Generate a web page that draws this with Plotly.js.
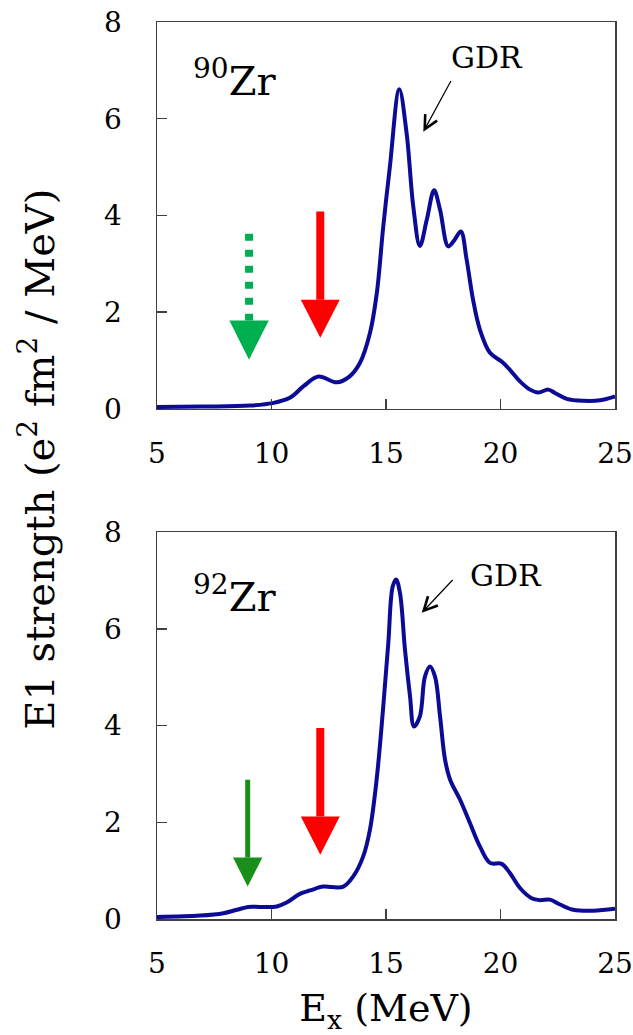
<!DOCTYPE html>
<html>
<head>
<meta charset="utf-8">
<script src="https://cdn.plot.ly/plotly-3.0.1.min.js"></script>
<style>html,body{margin:0;padding:0;background:#fff;}#chart{width:633px;height:1035px;}</style>
</head>
<body>
<div id="chart"></div>
<script>
// ---- data ----
const xTicks = [5, 10, 15, 20, 25];
const yTicks = [0, 2, 4, 6, 8];

// 90Zr E1 strength (e^2 fm^2 / MeV) vs Ex (MeV)
const ex90 = [5, 7.0, 9.06, 10.04, 10.8, 11.4, 12.05, 12.85, 13.4, 13.86, 14.3, 14.6, 14.88, 15.17, 15.58, 15.9, 16.19, 16.48, 16.78, 17.1, 17.36, 17.72, 18.0, 18.27, 18.52, 18.8, 19.1, 19.54, 20.05, 20.41, 20.85, 21.29, 21.65, 22.09, 22.38, 22.89, 23.62, 24.35, 25];
const s90  = [0.04, 0.05, 0.07, 0.12, 0.23, 0.47, 0.67, 0.55, 0.67, 0.95, 1.57, 2.4, 3.77, 5.01, 6.61, 5.70, 4.19, 3.37, 3.91, 4.52, 4.12, 3.36, 3.5, 3.67, 3.09, 2.26, 1.64, 1.16, 0.98, 0.81, 0.57, 0.40, 0.34, 0.40, 0.33, 0.21, 0.17, 0.18, 0.26];

// 92Zr E1 strength
const ex92 = [5, 6.88, 7.9, 8.48, 8.99, 9.5, 10.23, 10.66, 11.24, 11.68, 12.26, 12.63, 13.14, 13.57, 14.0, 14.3, 14.59, 14.88, 15.1, 15.29, 15.44, 15.61, 15.83, 16.05, 16.22, 16.48, 16.7, 16.92, 17.14, 17.36, 17.58, 17.8, 18.23, 18.67, 19.1, 19.54, 20.05, 20.41, 20.85, 21.36, 21.72, 22.16, 22.6, 23.18, 24.05, 25];
const s92  = [0.04, 0.07, 0.12, 0.19, 0.25, 0.25, 0.26, 0.34, 0.52, 0.59, 0.67, 0.66, 0.67, 0.88, 1.29, 1.85, 2.88, 4.39, 5.70, 6.87, 7.02, 6.74, 5.56, 4.6, 3.98, 4.19, 5.01, 5.22, 5.01, 4.19, 3.29, 2.88, 2.47, 1.98, 1.50, 1.16, 1.14, 0.95, 0.64, 0.43, 0.39, 0.40, 0.30, 0.19, 0.17, 0.21];

const panelLabels = ['<sup>90</sup>Zr', '<sup>92</sup>Zr'];
const gdrLabel = 'GDR';
const yTitle = 'E1 strength (e<sup>2</sup> fm<sup>2</sup> / MeV)';
const xTitle = 'E<sub>x</sub> (MeV)';

// ---- styling ----
const SERIF = 'DejaVu Serif';
const CURVE = '#0b0b96';
const AXC = '#404040';

function xAxis(anchor, withTitle) {
  const a = {
    anchor: anchor, domain: [0, 1], range: [5, 25],
    tickmode: 'array', tickvals: xTicks, ticktext: xTicks.map(String),
    ticks: 'inside', ticklen: 10, tickwidth: 1.5, tickcolor: AXC,
    showline: true, linecolor: AXC, linewidth: 1.5, mirror: true,
    showgrid: false, zeroline: false,
    tickfont: {family: SERIF, size: 28, color: '#000'},
    ticklabelstandoff: 19, fixedrange: true
  };
  if (withTitle) a.title = {text: xTitle, font: {family: SERIF, size: 38, color: '#000'}, standoff: 22};
  return a;
}
function yAxis(anchor, domain) {
  return {
    anchor: anchor, domain: domain, range: [0, 8],
    tickmode: 'array', tickvals: yTicks, ticktext: yTicks.map(String),
    ticks: 'inside', ticklen: 10, tickwidth: 1.5, tickcolor: AXC,
    showline: true, linecolor: AXC, linewidth: 1.5, mirror: true,
    showgrid: false, zeroline: false,
    tickfont: {family: SERIF, size: 28, color: '#000'},
    ticklabelstandoff: 28, fixedrange: true
  };
}

const traces = [
  {x: ex90, y: s90, xaxis: 'x', yaxis: 'y', type: 'scatter', mode: 'lines',
   line: {color: CURVE, width: 4, shape: 'spline', smoothing: 1}, hoverinfo: 'skip'},
  {x: ex92, y: s92, xaxis: 'x2', yaxis: 'y2', type: 'scatter', mode: 'lines',
   line: {color: CURVE, width: 4, shape: 'spline', smoothing: 1}, hoverinfo: 'skip'}
];

// arrow decorations (data coordinates of each panel)
function downArrow(xr, yr, x, yTop, yBase, yTip, halfW, color, shaftW, dash) {
  return [
    {type: 'line', xref: xr, yref: yr, x0: x, x1: x, y0: yTop, y1: yBase,
     line: {color: color, width: shaftW, dash: dash || 'solid'}},
    {type: 'path', xref: xr, yref: yr,
     path: `M ${x - halfW},${yBase} L ${x + halfW},${yBase} L ${x},${yTip} Z`,
     fillcolor: color, line: {color: color, width: 0}}
  ];
}
const shapes = [].concat(
  downArrow('x', 'y', 9.02, 3.62, 1.83, 1.02, 0.86, '#00b050', 8, '7px,9px'),
  downArrow('x', 'y', 12.13, 4.08, 2.26, 1.47, 0.85, '#ff0000', 8),
  downArrow('x2', 'y2', 8.96, 2.88, 1.27, 0.67, 0.64, '#188f18', 5),
  downArrow('x2', 'y2', 12.13, 3.95, 2.12, 1.33, 0.85, '#ff0000', 8)
);

const annotations = [
  {xref: 'x', yref: 'y', x: 8.4, y: 6.84, text: panelLabels[0], showarrow: false,
   xanchor: 'center', yanchor: 'middle', font: {family: SERIF, size: 40, color: '#000'}},
  {xref: 'x2', yref: 'y2', x: 8.4, y: 6.71, text: panelLabels[1], showarrow: false,
   xanchor: 'center', yanchor: 'middle', font: {family: SERIF, size: 40, color: '#000'}},
  {xref: 'x', yref: 'y', x: 19.41, y: 7.27, text: gdrLabel, showarrow: false,
   xanchor: 'center', yanchor: 'middle', font: {family: SERIF, size: 30, color: '#000'}},
  {xref: 'x2', yref: 'y2', x: 20.24, y: 7.11, text: gdrLabel, showarrow: false,
   xanchor: 'center', yanchor: 'middle', font: {family: SERIF, size: 30, color: '#000'}},
  {xref: 'x', yref: 'y', x: 16.63, y: 5.73, axref: 'x', ayref: 'y', ax: 17.87, ay: 6.81,
   text: '', showarrow: true, arrowhead: 5, arrowsize: 2.2, arrowwidth: 1.2, arrowcolor: '#000', standoff: 0, startstandoff: 0},
  {xref: 'x2', yref: 'y2', x: 16.56, y: 6.33, axref: 'x2', ayref: 'y2', ax: 17.97, ay: 7.04,
   text: '', showarrow: true, arrowhead: 5, arrowsize: 2.2, arrowwidth: 1.2, arrowcolor: '#000', standoff: 0, startstandoff: 0},
  {xref: 'paper', yref: 'paper', x: -0.262, y: 0.512, text: yTitle, textangle: -90, showarrow: false,
   xanchor: 'center', yanchor: 'middle', font: {family: SERIF, size: 40, color: '#000'}}
];

const layout = {
  width: 633, height: 1035,
  margin: {l: 157, r: 18, t: 22, b: 116},
  paper_bgcolor: '#fff', plot_bgcolor: '#fff',
  showlegend: false,
  font: {family: SERIF},
  xaxis: xAxis('y', false),
  yaxis: yAxis('x', [0.5686, 1]),
  xaxis2: xAxis('y2', true),
  yaxis2: yAxis('x2', [0, 0.4314]),
  shapes: shapes,
  annotations: annotations
};

Plotly.newPlot('chart', traces, layout, {staticPlot: true, displayModeBar: false});
</script>
</body>
</html>
